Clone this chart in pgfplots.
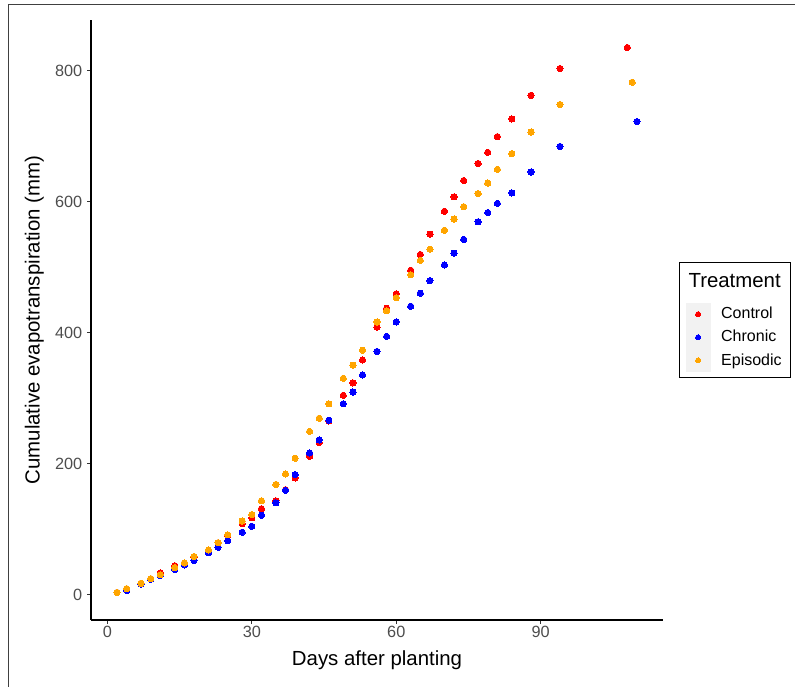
\documentclass[border=0pt]{standalone}
\usepackage{fontspec}
\setmainfont{Liberation Sans}
\usepackage{pgfplots}
\pgfplotsset{compat=1.18}
\definecolor{cred}{HTML}{FF0000}
\definecolor{cblue}{HTML}{0000FF}
\definecolor{corange}{HTML}{FFA500}
\definecolor{tickgray}{HTML}{4D4D4D}
\definecolor{keybg}{HTML}{F2F2F2}
\begin{document}
\begin{tikzpicture}
\path[use as bounding box] (0,0) rectangle (596.25pt,-514.5pt);
\draw[line width=0.75pt, black!75] (6pt,-520pt) -- (6pt,-3pt) -- (600pt,-3pt);
\begin{axis}[
  at={(68.25pt,-465pt)}, anchor=south west,
  scale only axis, width=429pt, height=450pt,
  xmin=-3.4, xmax=115.4, ymin=-39, ymax=877,
  axis x line*=bottom, axis y line*=left,
  axis line style={line width=0.8pt, black, -},
  xtick={0,30,60,90}, ytick={0,200,400,600,800},
  tick align=outside, major tick length=3pt,
  tick style={line width=0.75pt, black!80},
  ticklabel style={font=\fontsize{12.2}{14}\selectfont, text=tickgray},
  xticklabel style={yshift=1.8pt},
  /pgf/number format/assume math mode=true,
  xlabel={Days after planting},
  ylabel={Cumulative evapotranspiration (mm)},
  label style={font=\fontsize{15.3}{18}\selectfont},
  xlabel style={at={(axis description cs:0.5,-0.075)}, anchor=base},
  ylabel style={at={(axis description cs:-0.090,0.5)}, anchor=base},
  legend style={at={(1.0397,0.5290)}, anchor=north west, draw=none, fill=none,
    inner sep=0pt, outer sep=0pt, row sep=0pt, column sep=8pt,
    font=\fontsize{12}{14}\selectfont, nodes={inner sep=0pt}},
  legend cell align=left,
  legend image code/.code={\fill[keybg] (0pt,-8.45pt) rectangle (18.2pt,8.45pt);
    \draw[mark size=1.9pt,#1] plot coordinates {(9.1pt,0pt)};},
]
\addplot[only marks, mark=*, mark size=2.35pt, color=cred, mark options={fill=cred, draw=cred, line width=0pt}] coordinates {
(2,3) (4,8) (7,17) (9,24) (11,33) (14,44) (16,48) (18,57) (21,67) (23,79)
(25,90) (28,108) (30,117) (32,131) (35,143) (37,160) (39,178) (42,211) (44,232) (46,265)
(49,304) (51,323) (53,358) (56,408) (58,437) (60,459) (63,495) (65,519) (67,550) (70,585)
(72,607) (74,632) (77,658) (79,675) (81,699) (84,726) (88,762) (94,803) (108,835)
};
\addlegendentry{Control\vphantom{p}}
\addplot[only marks, mark=*, mark size=2.35pt, color=cblue, mark options={fill=cblue, draw=cblue, line width=0pt}] coordinates {
(2,3) (4,6) (7,16) (9,23) (11,29) (14,38) (16,45) (18,52) (21,64) (23,72)
(25,82) (28,95) (30,104) (32,121) (35,140) (37,159) (39,183) (42,216) (44,236) (46,266)
(49,291) (51,309) (53,335) (56,371) (58,394) (60,416) (63,440) (65,460) (67,479) (70,503)
(72,521) (74,542) (77,569) (79,583) (81,597) (84,613) (88,645) (94,684) (110,722)
};
\addlegendentry{Chronic\vphantom{p}}
\addplot[only marks, mark=*, mark size=2.35pt, color=corange, mark options={fill=corange, draw=corange, line width=0pt}] coordinates {
(2,3) (4,9) (7,17) (9,24) (11,30) (14,41) (16,48) (18,58) (21,68) (23,79)
(25,91) (28,112) (30,122) (32,143) (35,168) (37,184) (39,208) (42,249) (44,269) (46,291)
(49,330) (51,350) (53,373) (56,416) (58,433) (60,453) (63,488) (65,510) (67,527) (70,556)
(72,573) (74,592) (77,612) (79,628) (81,649) (84,673) (88,706) (94,748) (109,782)
};
\addlegendentry{Episodic}
\end{axis}
\draw[line width=0.75pt, black] (509.25pt,-197pt) rectangle (593pt,-283pt);
\node[anchor=base west, inner sep=0pt, font=\fontsize{15.3}{18}\selectfont] at (516.2pt,-215.5pt) {Treatment};
\end{tikzpicture}
\end{document}
